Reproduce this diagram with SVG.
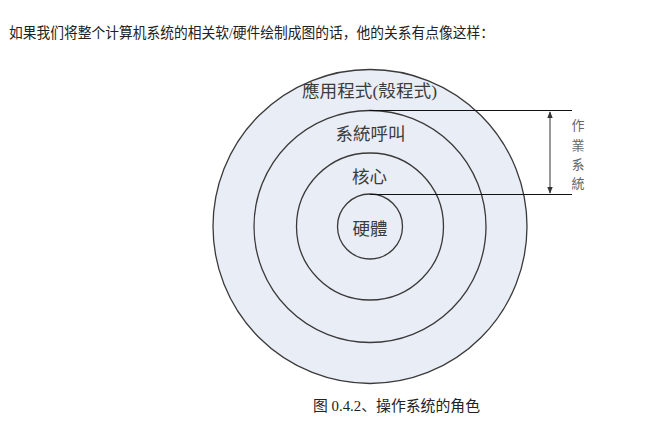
<svg xmlns="http://www.w3.org/2000/svg" width="669" height="427" viewBox="0 0 669 427">
<style>
.ring{fill:#e9edf6;stroke:#3a3a3a;stroke-width:1.3}
.lbl{font-family:"Liberation Serif","Noto Sans CJK TC",serif;font-size:17.5px;fill:#3c3c3c;text-anchor:middle}
.txt{font-family:"Liberation Serif","Noto Sans CJK SC",serif;fill:#222}
.side{font-family:"Noto Sans CJK TC",sans-serif;font-size:13px;fill:#666;text-anchor:middle}
</style>
<defs>
<marker id="ah" viewBox="0 0 10 10" refX="9" refY="5" markerWidth="7" markerHeight="7" orient="auto-start-reverse" markerUnits="userSpaceOnUse">
<path d="M0,1 L10,5 L0,9 z" fill="#333"/>
</marker>
</defs>
<rect width="669" height="427" fill="#fff"/>
<text class="txt" x="9" y="38" font-size="14.5" textLength="485" lengthAdjust="spacingAndGlyphs">如果我们将整个计算机系统的相关软/硬件绘制成图的话，他的关系有点像这样：</text>
<g id="app"><circle class="ring" cx="370" cy="226.5" r="157"/><text class="lbl" x="369.5" y="97" textLength="135" lengthAdjust="spacingAndGlyphs">應用程式(殼程式)</text></g>
<g id="syscall"><circle class="ring" cx="370" cy="226.5" r="116"/><text class="lbl" x="370.5" y="140">系統呼叫</text></g>
<g id="kernel"><circle class="ring" cx="370" cy="226.5" r="73.5"/><text class="lbl" x="369.5" y="183">核心</text></g>
<g id="hardware"><circle class="ring" cx="370" cy="226.5" r="32.5"/><text class="lbl" x="370" y="235">硬體</text></g>
<g id="connectors">
<line x1="369" y1="110.5" x2="572" y2="110.5" stroke="#111" stroke-width="1.2"/>
<line x1="370" y1="194.5" x2="572" y2="194.5" stroke="#111" stroke-width="1.2"/>
<line x1="550" y1="112" x2="550" y2="193" stroke="#777" stroke-width="1.5" marker-start="url(#ah)" marker-end="url(#ah)"/>
</g>
<g id="os-label">
<text class="side" x="578" y="130">作</text>
<text class="side" x="578" y="150">業</text>
<text class="side" x="578" y="169">系</text>
<text class="side" x="578" y="188">統</text>
</g>
<text class="txt" x="313" y="411" font-size="14.5" textLength="167" lengthAdjust="spacingAndGlyphs">图 0.4.2、操作系统的角色</text>
</svg>
